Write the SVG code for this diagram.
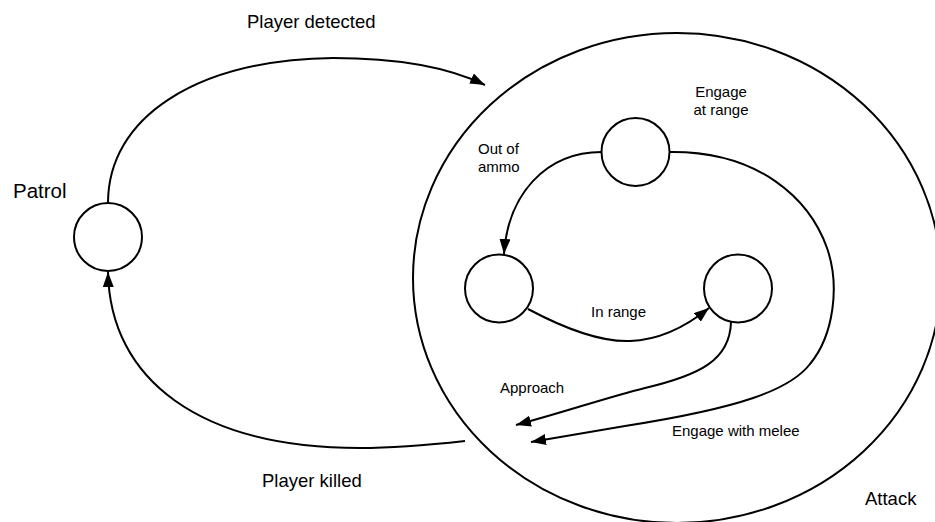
<svg xmlns="http://www.w3.org/2000/svg" width="935" height="522" viewBox="0 0 935 522">
  <style>
    .state { fill: #ffffff; stroke: #000000; stroke-width: 2; }
    .edge { fill: none; stroke: #000000; stroke-width: 2; marker-end: url(#arrow); }
    text { font-family: "Liberation Sans", Arial, sans-serif; fill: #000000; }
    .big { font-size: 18.5px; }
    .small { font-size: 15px; }
  </style>
  <defs>
    <marker id="arrow" markerUnits="userSpaceOnUse" markerWidth="16" markerHeight="12" refX="15" refY="5.5" orient="auto">
      <path d="M0,0 L15,5.5 L0,11 z" fill="#000000"/>
    </marker>
  </defs>

  <!-- Attack superstate -->
  <g id="attack">
    <ellipse class="state" cx="677" cy="278" rx="264" ry="245"/>
    <text class="big" x="865" y="505">Attack</text>
  </g>

  <!-- Patrol state -->
  <g id="patrol">
    <circle class="state" cx="108" cy="237" r="34"/>
    <text class="big" x="13" y="198" style="font-size:20.5px">Patrol</text>
  </g>

  <!-- Sub-states of Attack -->
  <g id="ranged">
    <circle class="state" cx="635.5" cy="152" r="34"/>
  </g>
  <g id="approach">
    <circle class="state" cx="499" cy="288.5" r="34"/>
  </g>
  <g id="melee">
    <circle class="state" cx="738" cy="288.5" r="34"/>
  </g>

  <!-- Transitions -->
  <g id="connectors">
    <path class="edge" d="M108,203 C108,118 195,60 333,58 C400,58 450,68 485,85"/>
    <path class="edge" d="M465,441 C420,446 390,448 360,448 C200,448 110,380 108,272"/>
    <path class="edge" d="M602,152 C545,152 508,195 504,254"/>
    <path class="edge" d="M670,152 C760,151 810,200 827,248 C840,285 834,335 810,364 C790,390 740,408 625,426 L531,442"/>
    <path class="edge" d="M731,322 C730,360 700,375 645,388 C605,398 565,412 516,425"/>
    <path class="edge" d="M528,309 C573,333 605,342 630,341 C660,340 688,325 709,308"/>
  </g>

  <!-- Transition labels -->
  <g id="labels">
    <text class="big" x="247" y="28">Player detected</text>
    <text class="big" x="262" y="487">Player killed</text>
    <text class="small" x="721" y="97" text-anchor="middle">Engage</text>
    <text class="small" x="721" y="115" text-anchor="middle">at range</text>
    <text class="small" x="478" y="154">Out of</text>
    <text class="small" x="478" y="172">ammo</text>
    <text class="small" x="591" y="317">In range</text>
    <text class="small" x="500" y="393">Approach</text>
    <text class="small" x="672" y="436">Engage with melee</text>
  </g>
</svg>
